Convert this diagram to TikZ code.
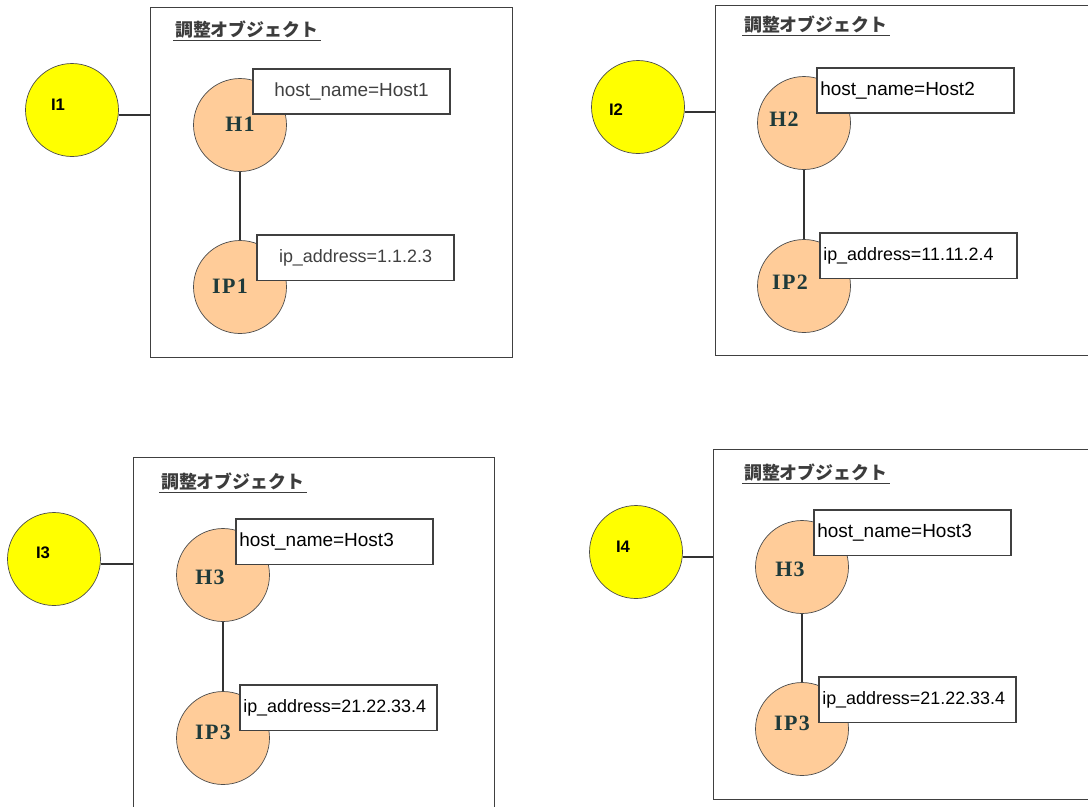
\documentclass[tikz,border=0pt]{standalone}
\usepackage{fontspec}
\setmainfont{Liberation Sans}
\newfontfamily\jpfont{Noto Sans CJK JP}
\newfontfamily\labfont[LetterSpace=6]{Liberation Serif}
\usepackage{xcolor}
\definecolor{boxbd}{HTML}{404040}
\definecolor{idfill}{HTML}{FFFF00}
\definecolor{objfill}{HTML}{FFCC99}
\definecolor{labtxt}{HTML}{1F3A3A}
\definecolor{ttltxt}{HTML}{3C3C3C}
\usetikzlibrary{positioning}

\begin{document}
\begin{tikzpicture}[
        x=0.02cm, y=-0.02cm,
        panel/.style={
            rectangle,
            draw=boxbd,
            line width=0.8pt,
            anchor=north west,
            minimum height=7cm,
            inner sep=0pt
        },
        ident/.style={
            circle,
            draw=black!70,
            fill=idfill,
            minimum size=1.86cm,
            inner sep=0pt
        },
        obj/.style={
            circle,
            draw=black!70,
            fill=objfill,
            minimum size=1.86cm,
            inner sep=0pt
        },
        attr/.style={
            rectangle,
            draw=boxbd,
            line width=0.9pt,
            fill=white,
            anchor=north west,
            minimum height=0.91cm,
            text width=3.81cm,
            inner xsep=0.07cm,
            align=left,
            font=\fontsize{10.8}{12}\selectfont
        },
        ipattr/.style={attr, font=\fontsize{10.2}{12}\selectfont},
        ttl/.style={anchor=west, inner sep=1pt, text=ttltxt, font=\jpfont\bfseries\fontsize{10.2}{12}\selectfont},
        idtxt/.style={font=\bfseries\fontsize{9.5}{11}\selectfont},
        objtxt/.style={text=labtxt, font=\labfont\bfseries\fontsize{12.5}{13}\selectfont},
        link/.style={draw=black!80, line width=0.7pt}
    ]

    \fill[white] (0,0) rectangle (1088,806);
    \useasboundingbox (0,0) rectangle (1088,806);
    \clip (0,0) rectangle (1088,806);

    % Panel 1: I1
    \node[panel, minimum width=7.24cm] (p1) at (150,7) {};
    \node[ident] (i1) at (72,110) {};
    \node[idtxt] (i1t) at (58,105) {I1};
    \coordinate (c1) at ([yshift=-0.1cm]i1.east);
    \draw[link] (c1) -- (c1 -| p1.west);
    \node[obj] (h1) at (240,125) {};
    \node[obj] (ip1) at (240,287) {};
    \draw[link] (h1.south) -- (ip1.north);
    \node[attr, align=center, text=black!75] (s_host1) at (252,68) {host\_name=Host1};
    \node[ipattr, align=center, text=black!75] (s_ip1) at (256,234) {ip\_address=1.1.2.3};
    \node[objtxt] (h1t) at (240,124) {H1};
    \node[objtxt] (ip1t) at (230,286) {IP1};
    \node[ttl] (ttl1) at (173,30) {調整オブジェクト};
    \draw[ttltxt, line width=0.6pt] (ttl1.south west) -- (ttl1.south east);

    % Panel 2: I2
    \node[panel, minimum width=7.6cm] (p2) at (715,5) {};
    \node[ident] (i2) at (638,107) {};
    \node[idtxt] (i2t) at (616,110) {I2};
    \coordinate (c2) at ([yshift=-0.1cm]i2.east);
    \draw[link] (c2) -- (c2 -| p2.west);
    \node[obj] (h2) at (804,123) {};
    \node[obj] (ip2) at (804,286) {};
    \draw[link] (h2.south) -- (ip2.north);
    \node[attr] (s_host2) at (816,67) {host\_name=Host2};
    \node[ipattr] (s_ip2) at (819,232) {ip\_address=11.11.2.4};
    \node[objtxt] (h2t) at (784,119) {H2};
    \node[objtxt] (ip2t) at (790,282) {IP2};
    \node[ttl] (ttl2) at (742,25) {調整オブジェクト};
    \draw[ttltxt, line width=0.6pt] (ttl2.south west) -- (ttl2.south east);

    % Panel 3: I3
    \node[panel, minimum width=7.22cm, minimum height=7.4cm] (p3) at (133,457) {};
    \node[ident] (i3) at (54,559) {};
    \node[idtxt] (i3t) at (43,553) {I3};
    \coordinate (c3) at ([yshift=-0.1cm]i3.east);
    \draw[link] (c3) -- (c3 -| p3.west);
    \node[obj] (h3) at (223,575) {};
    \node[obj] (ip3) at (223,738) {};
    \draw[link] (h3.south) -- (ip3.north);
    \node[attr] (s_host3) at (235,518) {host\_name=Host3};
    \node[ipattr] (s_ip3) at (239,684) {ip\_address=21.22.33.4};
    \node[objtxt] (h3t) at (210,577) {H3};
    \node[objtxt] (ip3t) at (213,732) {IP3};
    \node[ttl] (ttl3) at (159,482) {調整オブジェクト};
    \draw[ttltxt, line width=0.6pt] (ttl3.south west) -- (ttl3.south east);

    % Panel 4: I4
    \node[panel, minimum width=7.6cm] (p4) at (713,449) {};
    \node[ident] (i4) at (636,552) {};
    \node[idtxt] (i4t) at (623,547) {I4};
    \coordinate (c4) at ([yshift=-0.1cm]i4.east);
    \draw[link] (c4) -- (c4 -| p4.west);
    \node[obj] (h4) at (802,567) {};
    \node[obj] (ip4) at (802,729) {};
    \draw[link] (h4.south) -- (ip4.north);
    \node[attr] (s_host4) at (813,509) {host\_name=Host3};
    \node[ipattr] (s_ip4) at (818,676) {ip\_address=21.22.33.4};
    \node[objtxt] (h4t) at (790,569) {H3};
    \node[objtxt] (ip4t) at (792,723) {IP3};
    \node[ttl] (ttl4) at (742,473) {調整オブジェクト};
    \draw[ttltxt, line width=0.6pt] (ttl4.south west) -- (ttl4.south east);

    \end{tikzpicture}
\end{document}
